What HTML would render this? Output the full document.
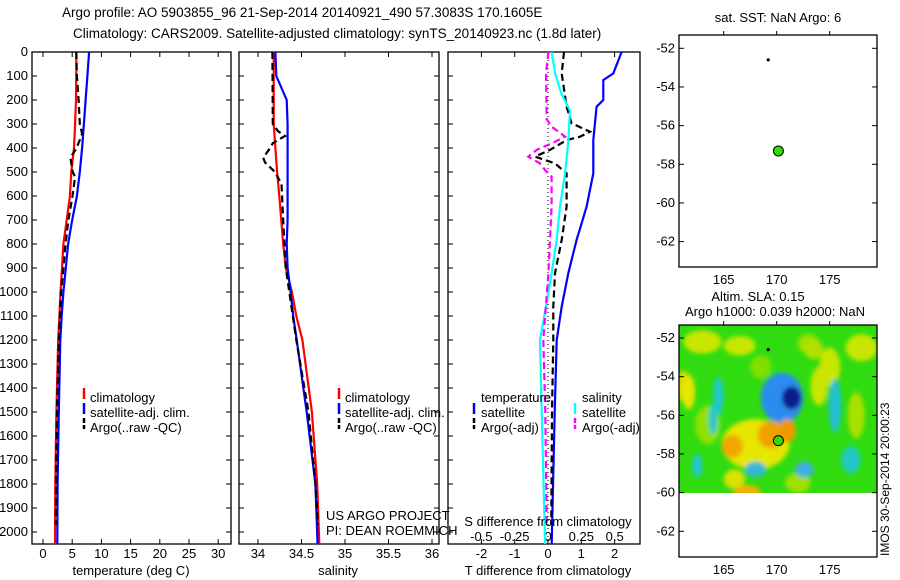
<!DOCTYPE html>
<html><head><meta charset="utf-8"><style>
html,body{margin:0;padding:0;background:#fff;}
svg{display:block;font-family:"Liberation Sans",sans-serif;}
</style></head><body>
<svg id="fig" width="900" height="580" xmlns="http://www.w3.org/2000/svg">
<defs><filter id="blur" x="-20%" y="-20%" width="140%" height="140%"><feGaussianBlur stdDeviation="2.2"/></filter>
<clipPath id="mapclip"><rect x="679" y="325" width="198" height="168"/></clipPath></defs>
<text x="62" y="17" font-size="13.5">Argo profile: AO 5903855_96 21-Sep-2014 20140921_490 57.3083S 170.1605E</text>
<text x="73" y="38" font-size="13.5">Climatology: CARS2009. Satellite-adjusted climatology: synTS_20140923.nc (1.8d later)</text>
<g id="plots"></g>
</svg>
<script>
// ---- data ----
const tDepth = [0,100,200,300,400,500,600,700,800,900,1000,1100,1200,1500,1800,2050];
const tClim  = [5.7,5.7,5.65,5.5,5.3,4.85,4.6,4.05,3.5,3.25,3.0,2.8,2.6,2.3,2.1,2.05];
const tSatDepth = [0,100,200,300,400,500,600,700,800,900,1000,1100,1200,1500,1800,2050];
const tSat  = [7.9,7.6,7.3,7.0,6.7,6.3,5.8,5.0,4.3,3.9,3.5,3.2,2.96,2.7,2.5,2.45];
const tArgoDepth = [0,100,200,300,340,360,400,440,500,520,600,700,800,900,1000,1100,1200,1500,1800,1970];
const tArgo = [5.7,5.8,6.1,6.3,6.7,6.4,5.75,4.7,5.1,5.5,5.05,4.35,3.85,3.5,3.1,2.9,2.7,2.4,2.25,2.2];
const sDepth = [0,300,400,500,600,800,900,1000,1100,1200,1500,1800,2050];
const sClim = [34.18,34.18,34.2,34.22,34.245,34.29,34.32,34.39,34.44,34.51,34.62,34.68,34.705];
const sSatDepth = [0,100,150,200,300,500,700,800,900,1000,1100,1200,1500,1800,2050];
const sSat = [34.2,34.21,34.27,34.33,34.34,34.34,34.34,34.33,34.34,34.375,34.405,34.445,34.56,34.66,34.685];
const sArgoDepth = [0,300,330,350,380,400,440,460,500,550,700,900,1000,1200,1500,1800,1970];
const sArgo = [34.165,34.17,34.23,34.31,34.17,34.14,34.06,34.08,34.195,34.27,34.29,34.32,34.36,34.44,34.58,34.66,34.69];
const dtSatDepth = [0,89,117,200,228,367,506,644,714,783,922,1061,1200,1500,2050];
const dtSat = [2.21,1.96,1.66,1.66,1.46,1.36,1.36,1.16,1.01,0.86,0.61,0.41,0.26,0.2,0.11];
const dtArgoDepth = [0,89,228,297,332,353,367,408,436,464,506,644,783,922,1061,1200,1500,1970];
const dtArgo = [0.48,0.41,0.56,0.71,1.26,0.96,0.56,0.06,-0.39,0.21,0.56,0.56,0.41,0.21,0.16,0.16,0.12,0.1];
const dsSatDepth = [0,89,172,244,367,506,644,783,922,1061,1200,1500,2050];
const dsSat = [0.027,0.053,0.10,0.165,0.153,0.128,0.09,0.065,0.027,-0.015,-0.06,-0.047,-0.022];
const dsArgoDepth = [0,89,280,311,353,381,408,436,464,492,519,644,922,1200,1500,1970];
const dsArgo = [0.003,-0.015,-0.01,0.027,0.128,0.027,-0.085,-0.148,-0.06,-0.022,0.027,0.027,0.003,-0.035,-0.02,-0.01];
const depthTicks = [0,100,200,300,400,500,600,700,800,900,1000,1100,1200,1300,1400,1500,1600,1700,1800,1900,2000];
const tTicks = [0,5,10,15,20,25,30];
const sTicks = [34,34.5,35,35.5,36];
const dtTicks = [-2,-1,0,1,2];
const dsTicks = [-0.5,-0.25,0,0.25,0.5];
const latTicks = [-52,-54,-56,-58,-60,-62];
const lonTicks = [165,170,175];
const floatLon = [170.16,169.2]; const floatLat = [-57.31,-52.6];
// SLA anomaly blobs: lon, lat, radius-lon(deg), radius-lat(deg), colour
const blobLon = [163.5,175.0,177.5,166.0,172.0,161.2,168.5,173.0,170.5,171.4,168.0,165.8,169.5,171.0,163.0,166.5,178.0,161.7,164.5,164.0,175.5,177.0,172.6,168.0,167.2,174.0,162.5,173.5];
const blobLat = [-56.5,-53.5,-56.0,-59.3,-59.5,-54.5,-53.5,-52.3,-55.1,-55.1,-57.5,-57.6,-57.0,-56.8,-52.2,-52.4,-52.5,-54.8,-55.0,-56.2,-55.5,-58.3,-58.8,-58.8,-60.0,-54.5,-58.6,-52.6];
const blobRX  = [1.2,1.0,0.8,1.0,1.2,0.6,1.0,1.0,2.0,0.9,3.2,1.0,1.3,0.8,1.8,1.5,1.5,0.6,0.5,0.4,0.6,0.9,0.9,1.0,1.3,0.8,0.5,0.9];
const blobRY  = [1.0,1.0,1.2,0.5,0.5,0.8,0.6,0.5,1.3,0.6,1.3,0.6,0.7,0.6,0.6,0.5,0.7,0.9,1.0,0.8,1.4,0.7,0.4,0.4,0.4,1.0,0.6,0.5];
const blobCol = ['#90e000','#c8e600','#a8e000','#d8e400','#a0e000','#e8d800','#80e000','#a0e000','#2a8cf0','#0a1e8c','#e6e600','#f0a800','#f0a000','#f09a00','#c8e600','#c8e600','#c8e600','#e6e600','#20c8c8','#20c8c8','#20c0d0','#20c8c8','#40b0e0','#30b8d8','#f0b000','#c8e600','#20c8c8','#b0e000'];

// ---- helpers ----
const NS='http://www.w3.org/2000/svg';
const G=document.getElementById('plots');
function el(tag,attrs,parent){const e=document.createElementNS(NS,tag);for(const k in attrs)e.setAttribute(k,attrs[k]);(parent||G).appendChild(e);return e;}
const yD = d => 52 + 0.24*d;
const xT = v => 43 + 5.84*v;
const xS = v => 258 + 87*(v-34);
const xDT = v => 548 + 33.3*v;
const xDS = v => 548 + 133.3*v;
function txt(x,y,s,opts,name){const t=el('text',Object.assign({x:x,y:y,'font-size':13},opts||{}));t.textContent=s;


return t;}
function line(xs,ds,xf,color,dash,name,w){
  const pts=xs.map((v,i)=>xf(v).toFixed(1)+','+yD(ds[i]).toFixed(1)).join(' ');
  const p=el('polyline',{points:pts,fill:'none',stroke:color,'stroke-width':w||2.2});
  if(dash)p.setAttribute('stroke-dasharray',dash);
  
  
}
function frame(x0,x1,name){
  const r=el('rect',{x:x0,y:52,width:x1-x0,height:492,fill:'none',stroke:'#000','stroke-width':1.3});
  
  
  depthTicks.forEach(d=>{el('line',{x1:x0,x2:x0+5,y1:yD(d),y2:yD(d),stroke:'#000'});el('line',{x1:x1,x2:x1-5,y1:yD(d),y2:yD(d),stroke:'#000'});});
}
function xticks(ticks,xf,labels,y,name){ticks.forEach((v,i)=>{const x=xf(v);el('line',{x1:x,x2:x,y1:52,y2:57,stroke:'#000'});el('line',{x1:x,x2:x,y1:544,y2:539,stroke:'#000'});
 if(labels)txt(x,y,labels[i],{'text-anchor':'middle'},name);});}
function legendLine(x,y,color,dash){el('line',{x1:x,x2:x,y1:y-10,y2:y+1,stroke:color,'stroke-width':2.5,'stroke-dasharray':dash||''});}

// depth labels
depthTicks.forEach(d=>txt(28,yD(d)+4,String(d),{'text-anchor':'end'},'depth-tick-label'));

// ---- panel 1: temperature ----
frame(32,231,'temperature-panel');
xticks(tTicks,xT,tTicks.map(String),558,'temperature-tick-label');
line(tClim,tDepth,xT,'#ff0000',null,'temperature-climatology-line');
line(tSat,tSatDepth,xT,'#0000ff',null,'temperature-satellite-line');
line(tArgo,tArgoDepth,xT,'#000000','7,4','temperature-argo-line');
txt(131,575,'temperature (deg C)',{'text-anchor':'middle'},'temperature-axis-title');
legendLine(84,398,'#ff0000');txt(90,402,'climatology',{},'legend-climatology');
legendLine(84,413,'#0000ff');txt(90,417,'satellite-adj. clim.',{},'legend-satellite');
legendLine(84,428,'#000','5,2');txt(90,432,'Argo(..raw -QC)',{},'legend-argo');

// ---- panel 2: salinity ----
frame(239,439,'salinity-panel');
xticks(sTicks,xS,sTicks.map(String),558,'salinity-tick-label');
line(sClim,sDepth,xS,'#ff0000',null,'salinity-climatology-line');
line(sSat,sSatDepth,xS,'#0000ff',null,'salinity-satellite-line');
line(sArgo,sArgoDepth,xS,'#000000','7,4','salinity-argo-line');
txt(338,575,'salinity',{'text-anchor':'middle'},'salinity-axis-title');
legendLine(339,398,'#ff0000');txt(345,402,'climatology',{},'legend-climatology');
legendLine(339,413,'#0000ff');txt(345,417,'satellite-adj. clim.',{},'legend-satellite');
legendLine(339,428,'#000','5,2');txt(345,432,'Argo(..raw -QC)',{},'legend-argo');
txt(326,520,'US ARGO PROJECT',{},'project-label');
txt(326,535,'PI: DEAN ROEMMICH',{},'pi-label');

// ---- panel 3: differences ----
const r3=el('rect',{x:448,y:52,width:192,height:492,fill:'none',stroke:'#000','stroke-width':1.3});


depthTicks.forEach(d=>el('line',{x1:448,x2:453,y1:yD(d),y2:yD(d),stroke:'#000'}));
dtTicks.forEach(v=>{const x=xDT(v);el('line',{x1:x,x2:x,y1:52,y2:57,stroke:'#000'});el('line',{x1:x,x2:x,y1:544,y2:539,stroke:'#000'});txt(x,558,String(v),{'text-anchor':'middle'},'t-diff-tick-label');});
dsTicks.forEach(v=>txt(xDS(v),541,String(v),{'text-anchor':'middle'},'s-diff-tick-label'));
el('line',{x1:548,x2:548,y1:52,y2:544,stroke:'#000','stroke-width':1,'stroke-dasharray':'1,3'});
line(dtSat,dtSatDepth,xDT,'#0000ff',null,'t-diff-satellite-line');
line(dtArgo,dtArgoDepth,xDT,'#000000','7,4','t-diff-argo-line');
line(dsSat,dsSatDepth,xDS,'#00ffff',null,'s-diff-satellite-line');
line(dsArgo,dsArgoDepth,xDS,'#ff00ff','7,4','s-diff-argo-line');
txt(481,402,'temperature',{},'legend-temperature-header');
legendLine(474,413,'#0000ff');txt(481,417,'satellite',{},'legend-t-satellite');
legendLine(474,428,'#000','5,2');txt(481,432,'Argo(-adj)',{},'legend-t-argo');
txt(582,402,'salinity',{},'legend-salinity-header');
legendLine(575,413,'#00ffff');txt(582,417,'satellite',{},'legend-s-satellite');
legendLine(575,428,'#ff00ff','5,2');txt(582,432,'Argo(-adj)',{},'legend-s-argo');
txt(548,526,'S difference from climatology',{'text-anchor':'middle'},'s-diff-axis-title');
txt(548,575,'T difference from climatology',{'text-anchor':'middle'},'t-diff-axis-title');

// ---- maps ----
const mx = lon => 776.7 + 10.6*(lon-170);
function map(top,latY0,name){
  const my = lat => latY0 + 19.33*(-52-lat);
  const r=el('rect',{x:679,y:top,width:198,height:232,fill:'none',stroke:'#000','stroke-width':1.3});
  
  
  latTicks.forEach(v=>{const y=my(v);el('line',{x1:679,x2:684,y1:y,y2:y,stroke:'#000'});el('line',{x1:877,x2:872,y1:y,y2:y,stroke:'#000'});txt(675,y+4,String(v),{'text-anchor':'end'},'lat-tick-label');});
  lonTicks.forEach(v=>{const x=mx(v);el('line',{x1:x,x2:x,y1:top,y2:top-4,stroke:'#000'});txt(x,top+249,String(v),{'text-anchor':'middle'},'lon-tick-label');});
  return my;
}
const my1=map(35,48.3,'sst-map');
txt(778,22,'sat. SST: NaN Argo: 6',{'text-anchor':'middle'},'sst-map-title');
// map 2 heatmap
const hm=el('g',{'clip-path':'url(#mapclip)'});
const bg=el('rect',{x:679,y:325,width:198,height:168,fill:'#30dc10'},hm);


const bl=el('g',{filter:'url(#blur)'},hm);
const my2lat = lat => 338 + 19.33*(-52-lat);
blobLon.forEach((lon,i)=>{const e=el('ellipse',{cx:mx(lon),cy:my2lat(blobLat[i]),rx:10.6*blobRX[i],ry:19.33*blobRY[i],fill:blobCol[i]},bl);

});
const my2=map(325,338,'sla-map');
txt(758,301,'Altim. SLA: 0.15',{'text-anchor':'middle'},'sla-map-title');
txt(775,316,'Argo h1000: 0.039 h2000: NaN',{'text-anchor':'middle'},'sla-map-subtitle');
[my1,my2].forEach(my=>{
  const s=el('circle',{cx:mx(floatLon[1]),cy:my(floatLat[1]),r:1.6,fill:'#000'});
  
  
  const c=el('circle',{cx:mx(floatLon[0]),cy:my(floatLat[0]),r:5,fill:'#33dd00',stroke:'#000','stroke-width':1});
  
  
});
const stamp=txt(0,0,'IMOS 30-Sep-2014 20:00:23',{transform:'translate(889,556) rotate(-90)','font-size':12},'imos-timestamp');
</script>
</body></html>
